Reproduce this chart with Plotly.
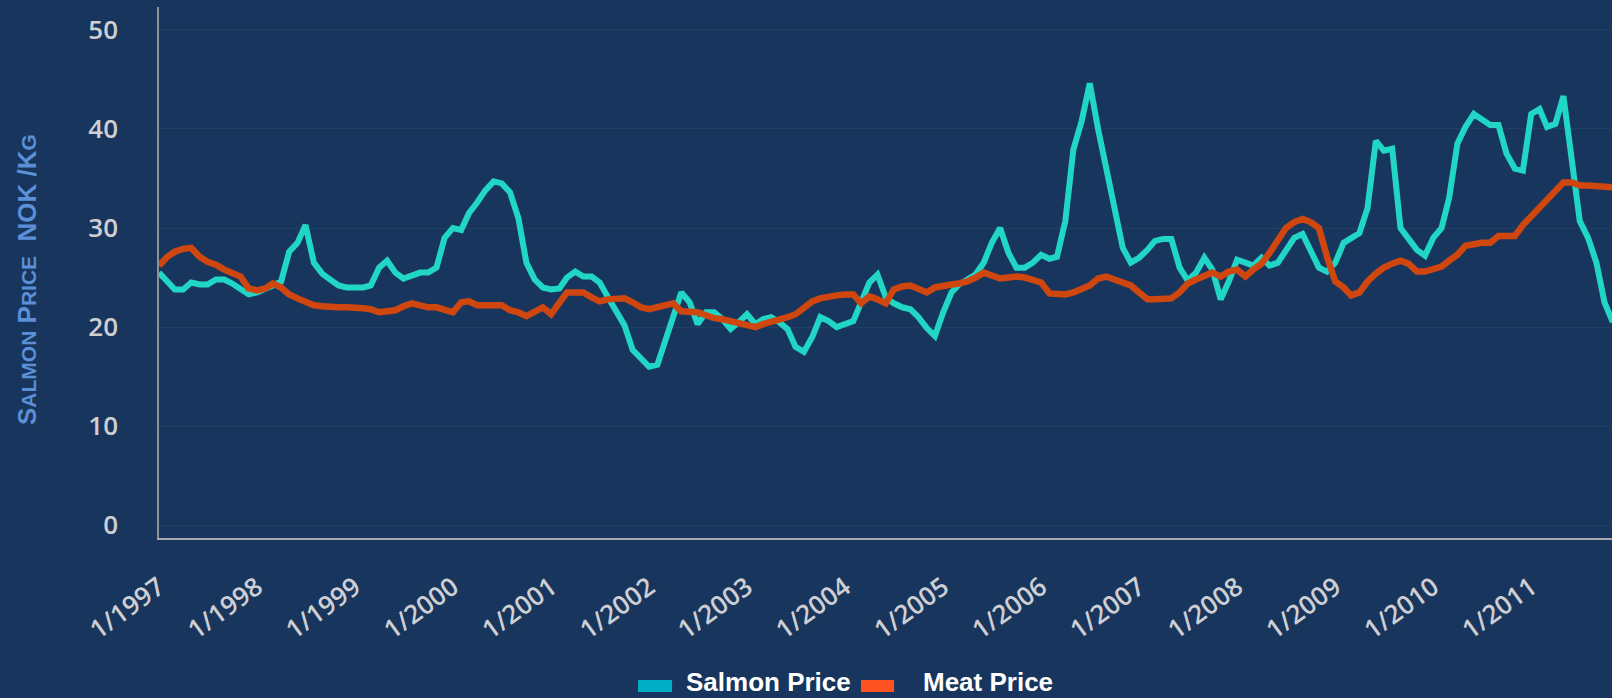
import pandas as pd
import plotly.graph_objects as go

# Monthly prices, NOK/kg, January 1997 onwards
salmon_price = [
    25.5, 24.5, 23.8, 23.8, 24.5, 24.3, 24.3, 24.8, 24.8, 24.4, 23.8, 23.3,
    23.5, 23.8, 24.2, 24.6, 27.6, 28.5, 30.3, 26.5, 25.4, 24.8, 24.2, 24.0,
    24.0, 24.0, 24.2, 26.0, 26.7, 25.5, 24.9, 25.2, 25.5, 25.5, 26.0, 29.0,
    30.0, 29.8, 31.5, 32.6, 33.8, 34.7, 34.5, 33.6, 31.0, 26.5, 24.8, 24.0,
    23.8, 23.9, 25.0, 25.6, 25.1, 25.1, 24.5, 23.0, 21.7, 20.2, 17.7, 16.8,
    16.0, 16.2, 18.5, 21.5, 23.5, 22.5, 20.3, 21.5, 21.5, 20.8, 19.8, 20.5,
    21.3, 20.3, 20.8, 21.0, 20.5, 19.8, 18.0, 17.5, 19.0, 21.0, 20.6, 20.0,
    20.3, 20.6, 22.5, 24.5, 25.3, 23.0, 22.4, 22.0, 21.8, 21.0, 19.9, 19.1,
    21.5, 23.5, 24.3, 24.8, 25.3, 26.5, 28.5, 30.0, 27.5, 26.0, 26.0, 26.5,
    27.3, 26.9, 27.1, 30.7, 37.9, 40.8, 44.6, 40.0, 36.0, 32.0, 28.0, 26.5,
    27.0, 27.8, 28.7, 28.9, 28.9, 26.0, 24.7, 25.5, 27.0, 25.8, 22.8, 24.6,
    26.8, 26.5, 26.2, 27.0, 26.2, 26.5, 27.8, 29.0, 29.4, 27.8, 26.0, 25.6,
    26.5, 28.5, 29.0, 29.5, 32.0, 38.8, 37.8, 38.0, 30.0, 29.0, 27.8, 27.2,
    29.0, 30.0, 33.0, 38.5, 40.2, 41.5, 41.0, 40.4, 40.4, 37.5, 36.0, 35.8,
    41.5, 42.0, 40.2, 40.5, 43.3, 37.0, 30.7, 29.0, 26.5, 22.5, 20.5,
]

meat_price = [
    26.2, 27.1, 27.6, 27.9, 28.0, 27.1, 26.6, 26.3, 25.8, 25.4, 25.1, 23.9,
    23.7, 23.9, 24.4, 24.0, 23.3, 22.9, 22.6, 22.2, 22.1, 22.0, 22.0, 22.0,
    22.0, 21.9, 21.8, 21.5, 21.6, 21.7, 22.1, 22.4, 22.2, 22.0, 22.0, 21.8,
    21.5, 22.5, 22.6, 22.2, 22.2, 22.2, 22.2, 21.7, 21.5, 21.1, 21.5, 22.0,
    21.3, 22.5, 23.5, 23.5, 23.5, 23.0, 22.6, 22.8, 22.9, 22.9, 22.5, 22.0,
    21.8, 22.0, 22.2, 22.4, 21.6, 21.5, 21.5, 21.2, 20.9, 20.8, 20.6, 20.4,
    20.2, 20.0, 20.3, 20.5, 20.8, 21.0, 21.3, 22.0, 22.6, 22.9, 23.1, 23.2,
    23.3, 23.3, 22.4, 23.1, 22.8, 22.4, 23.8, 24.1, 24.2, 23.8, 23.5, 24.0,
    24.2, 24.3, 24.4, 24.6, 25.0, 25.5, 25.2, 24.9, 25.0, 25.1, 25.0, 24.8,
    24.5, 23.4, 23.3, 23.3, 23.5, 23.8, 24.2, 24.9, 25.1, 24.8, 24.5, 24.2,
    23.5, 22.8, 22.8, 22.9, 22.9, 23.5, 24.4, 24.8, 25.2, 25.5, 25.1, 25.6,
    25.8, 25.1, 25.8, 26.4, 27.5, 28.9, 30.0, 30.6, 30.9, 30.6, 30.0, 27.1,
    24.6, 24.0, 23.2, 23.5, 24.6, 25.4, 26.0, 26.4, 26.7, 26.4, 25.6, 25.6,
    25.8, 26.1, 26.7, 27.3, 28.2, 28.4, 28.5, 28.5, 29.2, 29.2, 29.2, 30.3,
    31.2, 32.0, 33.0, 33.8, 34.6, 34.6, 34.3, 34.3, 34.2, 34.1, 34.1,
]

start_month = "1997-01-01"
tick_years = list(range(1997, 2012))
tick_labels = [f"1/{y}" for y in tick_years]
y_ticks = [0, 10, 20, 30, 40, 50]
series_names = ["Salmon Price", "Meat Price"]

dates = pd.date_range(start_month, periods=len(salmon_price), freq="MS")
tick_dates = [pd.Timestamp(f"{y}-01-01") for y in tick_years]

BG = "#18365D"
SALMON_LINE = "#22D6C6"
MEAT_LINE = "#CF470F"
SALMON_LEG = "#00AFC6"
MEAT_LEG = "#FF5222"

fig = go.Figure()
fig.add_trace(go.Scatter(x=dates, y=salmon_price, mode="lines", name=series_names[0],
                         line=dict(color=SALMON_LINE, width=6)))
fig.add_trace(go.Scatter(x=dates, y=meat_price, mode="lines", name=series_names[1],
                         line=dict(color=MEAT_LINE, width=6.5)))

ytick_font = dict(family="Open Sans", size=26, color="#CFCFD3", weight=600)
xtick_font = dict(family="Open Sans", size=26, color="#CFCFD3", weight=600)
legend_font = dict(family="Liberation Sans, Arial", size=26, color="#FFFFFF", weight="bold")

# Legend drawn below the plot, near the picture's bottom edge
legend_items = [
    dict(name=series_names[0], color=SALMON_LEG, box=(0.3297, 0.3531), text_x=0.3613),
    dict(name=series_names[1], color=MEAT_LEG, box=(0.4831, 0.5059), text_x=0.5244),
]
shapes = []
annotations = []
for item in legend_items:
    shapes.append(dict(type="rect", xref="paper", yref="paper",
                       x0=item["box"][0], x1=item["box"][1], y0=-0.2900, y1=-0.2674,
                       fillcolor=item["color"], line=dict(width=0)))
    annotations.append(dict(text=item["name"], xref="paper", yref="paper",
                            x=item["text_x"], y=-0.2712, xanchor="left", yanchor="middle",
                            showarrow=False, font=legend_font))

annotations.append(dict(
    text="S<span style='font-size:21px'>ALMON</span> P<span style='font-size:21px'>RICE</span>  NOK /K<span style='font-size:21px'>G</span>",
    xref="paper", yref="paper", x=-0.0908, y=0.486, xanchor="center", yanchor="middle",
    textangle=-90, showarrow=False,
    font=dict(family="Liberation Sans, Arial", size=26, color="#5B8FD8", weight="bold"),
))

fig.update_layout(
    width=1612, height=698,
    margin=dict(l=159, r=0, t=7, b=160),
    paper_bgcolor=BG, plot_bgcolor=BG,
    showlegend=False,
    xaxis=dict(type="date", range=["1997-01-01", "2011-10-29"],
               tickmode="array", tickvals=tick_dates, ticktext=tick_labels,
               tickangle=-36, tickfont=xtick_font, ticklabelstandoff=22,
               showgrid=False, showline=True, linecolor="#A9A9AD", linewidth=1.5,
               zeroline=False, ticks=""),
    yaxis=dict(range=[-1.28, 52.3], tickmode="array", tickvals=y_ticks,
               tickfont=ytick_font, ticklabelstandoff=34,
               showgrid=True, gridcolor="rgba(255,255,255,0.045)", gridwidth=1,
               showline=True, linecolor="#8E9096", linewidth=1.5,
               zeroline=False, ticks=""),
    shapes=shapes,
    annotations=annotations,
)

fig.write_html("out.html", config={"displayModeBar": False},
               post_script="document.body.style.margin='0';document.body.style.background='" + BG + "';")
